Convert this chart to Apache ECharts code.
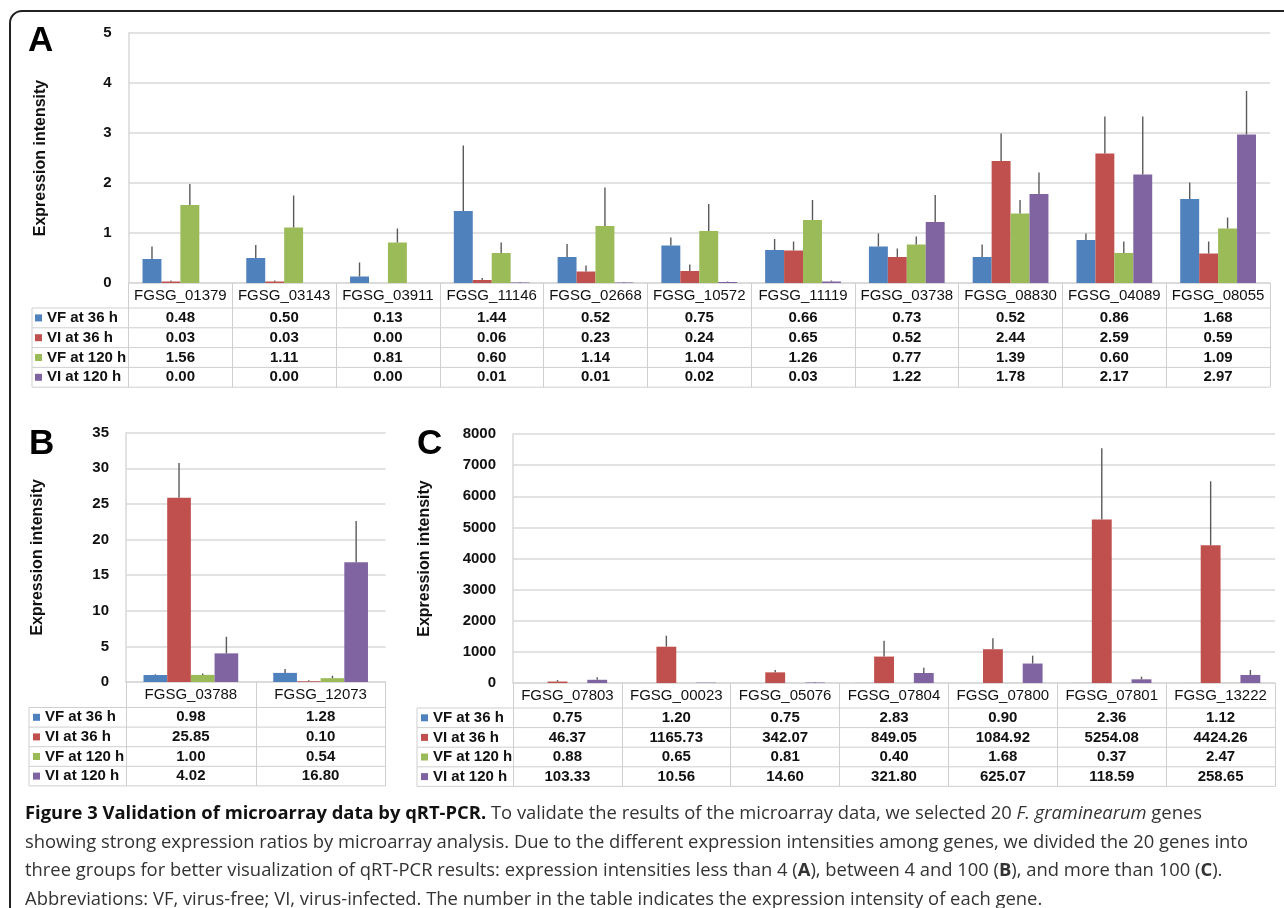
<!DOCTYPE html>
<html><head><meta charset="utf-8">
<script src="https://cdn.jsdelivr.net/npm/echarts@6/dist/echarts.min.js"></script>
<style>html,body{margin:0;padding:0;background:#fff}#c{width:1284px;height:908px}</style>
</head><body><div id="c"></div>
<script>
// ---------- data ----------
const seriesNames = ['VF at 36 h', 'VI at 36 h', 'VF at 120 h', 'VI at 120 h'];

const genesA = ['FGSG_01379','FGSG_03143','FGSG_03911','FGSG_11146','FGSG_02668','FGSG_10572','FGSG_11119','FGSG_03738','FGSG_08830','FGSG_04089','FGSG_08055'];
const vf36A  = [0.48,0.50,0.13,1.44,0.52,0.75,0.66,0.73,0.52,0.86,1.68];
const vi36A  = [0.03,0.03,0.00,0.06,0.23,0.24,0.65,0.52,2.44,2.59,0.59];
const vf120A = [1.56,1.11,0.81,0.60,1.14,1.04,1.26,0.77,1.39,0.60,1.09];
const vi120A = [0.00,0.00,0.00,0.01,0.01,0.02,0.03,1.22,1.78,2.17,2.97];
const vf36ErrA  = [0.25,0.26,0.28,1.31,0.26,0.16,0.22,0.26,0.25,0.13,0.33];
const vi36ErrA  = [0.02,0.02,0.00,0.04,0.12,0.13,0.18,0.17,0.55,0.74,0.24];
const vf120ErrA = [0.42,0.64,0.28,0.21,0.77,0.54,0.40,0.16,0.27,0.23,0.22];
const vi120ErrA = [0.00,0.00,0.00,0.01,0.01,0.01,0.02,0.54,0.43,1.16,0.87];

const genesB = ['FGSG_03788','FGSG_12073'];
const vf36B  = [0.98,1.28];
const vi36B  = [25.85,0.10];
const vf120B = [1.00,0.54];
const vi120B = [4.02,16.80];
const vf36ErrB  = [0.10,0.54];
const vi36ErrB  = [4.90,0.15];
const vf120ErrB = [0.20,0.34];
const vi120ErrB = [2.33,5.80];

const genesC = ['FGSG_07803','FGSG_00023','FGSG_05076','FGSG_07804','FGSG_07800','FGSG_07801','FGSG_13222'];
const vf36C  = [0.75,1.20,0.75,2.83,0.90,2.36,1.12];
const vi36C  = [46.37,1165.73,342.07,849.05,1084.92,5254.08,4424.26];
const vf120C = [0.88,0.65,0.81,0.40,1.68,0.37,2.47];
const vi120C = [103.33,10.56,14.60,321.80,625.07,118.59,258.65];
const vf36ErrC  = [0,0,0,0,0,0,0];
const vi36ErrC  = [50,354,76,510,351,2286,2056];
const vf120ErrC = [0,0,0,0,0,0,0];
const vi120ErrC = [80,0,15,170,253,84,159];

const yTicksA = [0,1,2,3,4,5];
const yTicksB = [0,5,10,15,20,25,30,35];
const yTicksC = [0,1000,2000,3000,4000,5000,6000,7000,8000];

// ---------- style / layout ----------
const COLORS = ['#4F81BD','#C0504D','#9BBB59','#8064A2'];
const FONT = 'Liberation Sans';
const CAP_FONT = 'Open Sans';
const CAP_SIZE = 18.4;
const GAP = 0.27;
const GRID_LINE = '#d9d9d9';
const TABLE_LINE = '#cfcfcf';
const TXT = '#111';

const panels = [
  { letter:'A', genes:genesA, vals:[vf36A,vi36A,vf120A,vi120A], errs:[vf36ErrA,vi36ErrA,vf120ErrA,vi120ErrA], ticks:yTicksA,
    grid:{left:128.5, top:33, width:1141.5, height:250}, tableLeft:32, headH:25, rowH:19.8, letterX:28, letterY:41, legendLeft:35 },
  { letter:'B', genes:genesB, vals:[vf36B,vi36B,vf120B,vi120B], errs:[vf36ErrB,vi36ErrB,vf120ErrB,vi120ErrB], ticks:yTicksB,
    grid:{left:126, top:432.7, width:259.5, height:249.3}, tableLeft:29, headH:25.5, rowH:19.6, letterX:29, letterY:444, legendLeft:33 },
  { letter:'C', genes:genesC, vals:[vf36C,vi36C,vf120C,vi120C], errs:[vf36ErrC,vi36ErrC,vf120ErrC,vi120ErrC], ticks:yTicksC,
    grid:{left:513, top:434, width:762, height:249}, tableLeft:417, headH:25, rowH:19.6, letterX:417, letterY:444.5, legendLeft:421 }
];

const grids = [], xAxes = [], yAxes = [], series = [], legends = [], graphics = [];

panels.forEach((p, pi) => {
  const g = p.grid;
  const bottom = g.top + g.height;
  const tableH = p.headH + p.rowH * 4;
  grids.push(Object.assign({}, g));

  xAxes.push({
    type:'category', gridIndex:pi, data:p.genes,
    axisLine:{show:true, lineStyle:{color:GRID_LINE, width:1.5}},
    axisTick:{show:true, length:tableH, lineStyle:{color:TABLE_LINE, width:1}},
    axisLabel:{interval:0, fontFamily:FONT, fontSize:15, color:TXT, margin:p.headH/2, verticalAlign:'middle'},
    splitLine:{show:false}
  });
  p.vals.forEach((arr, k) => {
    xAxes.push({
      type:'category', gridIndex:pi, data:p.genes, position:'bottom',
      offset: p.headH + p.rowH * (k + 0.5),
      axisLine:{show:false}, axisTick:{show:false}, splitLine:{show:false},
      axisLabel:{interval:0, fontFamily:FONT, fontSize:15, fontWeight:'bold', color:TXT, margin:0, verticalAlign:'middle',
        formatter:(v, idx) => arr[idx].toFixed(2)}
    });
  });

  yAxes.push({
    type:'value', gridIndex:pi, min:p.ticks[0], max:p.ticks[p.ticks.length-1], interval:p.ticks[1]-p.ticks[0],
    axisLine:{show:true, lineStyle:{color:GRID_LINE, width:1.5}}, axisTick:{show:false},
    splitLine:{show:true, lineStyle:{color:GRID_LINE, width:1.5}},
    axisLabel:{fontFamily:FONT, fontSize:15, fontWeight:'bold', color:TXT, margin:17, formatter:v => String(v)},
    name:'Expression intensity', nameLocation:'middle', nameGap:80,
    nameTextStyle:{fontFamily:FONT, fontSize:16, fontWeight:'bold', color:TXT}
  });

  p.vals.forEach((arr, k) => {
    series.push({
      type:'bar', name:seriesNames[k], xAxisIndex:pi*5, yAxisIndex:pi, data:arr,
      barGap:'0%', barCategoryGap:(GAP*100)+'%', itemStyle:{color:COLORS[k]}, silent:true
    });
  });

  const errData = [];
  p.errs.forEach((arr, k) => arr.forEach((e, j) => errData.push([j, k, p.vals[k][j], e])));
  series.push({
    type:'custom', xAxisIndex:pi*5, yAxisIndex:pi, z:5, silent:true, data:errData,
    encode:{x:0, y:2},
    renderItem(params, api) {
      const j = api.value(0), k = api.value(1), v = api.value(2), e = api.value(3);
      if (!(e > 0)) return null;
      const band = api.size([1, 0])[0];
      const total = band * (1 - GAP);
      const bw = total / 4;
      const base = api.coord([j, v]);
      const top = api.coord([j, v + e]);
      const x = base[0] - total / 2 + bw * (k + 0.5);
      return {type:'line', shape:{x1:x, y1:base[1], x2:x, y2:top[1]}, style:{stroke:'#5a5a5a', lineWidth:1.4}};
    }
  });

  legends.push({
    data:seriesNames, orient:'vertical', left:p.legendLeft, top:bottom + p.headH + p.rowH/2 - 7.5,
    itemWidth:7, itemHeight:7, itemGap:p.rowH - 15, padding:0, icon:'rect', selectedMode:false,
    textStyle:{fontFamily:FONT, fontSize:15, fontWeight:'bold', color:TXT, lineHeight:15}
  });

  const right = g.left + g.width;
  for (let r = 0; r <= 4; r++) {
    const y = bottom + p.headH + p.rowH * r;
    graphics.push({type:'line', shape:{x1:p.tableLeft, y1:y, x2:right, y2:y}, style:{stroke:TABLE_LINE, lineWidth:1}, silent:true});
  }
  graphics.push({type:'line', shape:{x1:p.tableLeft, y1:bottom + p.headH, x2:p.tableLeft, y2:bottom + tableH}, style:{stroke:TABLE_LINE, lineWidth:1}, silent:true});

  graphics.push({type:'text', x:p.letterX, y:p.letterY, silent:true,
    style:{text:p.letter, fontFamily:FONT, fontSize:35, fontWeight:'bold', fill:'#000', textAlign:'left', textVerticalAlign:'middle'}});
});

// outer frame
graphics.push({type:'rect', shape:{x:10, y:11, width:1300, height:950, r:12}, style:{fill:'none', stroke:'#222', lineWidth:2}, silent:true});

// caption
const capRich = {
  b:{fontFamily:CAP_FONT, fontSize:CAP_SIZE, fontWeight:'bold', fill:'#111'},
  n:{fontFamily:CAP_FONT, fontSize:CAP_SIZE, fill:'#333'},
  i:{fontFamily:CAP_FONT, fontSize:CAP_SIZE, fontStyle:'italic', fill:'#333'},
  nb:{fontFamily:CAP_FONT, fontSize:CAP_SIZE, fontWeight:'bold', fill:'#333'}
};
const capLines = [
  '{b|Figure 3 Validation of microarray data by qRT-PCR.}{n| To validate the results of the microarray data, we selected 20 }{i|F. graminearum}{n| genes}',
  '{n|showing strong expression ratios by microarray analysis. Due to the different expression intensities among genes, we divided the 20 genes into}',
  '{n|three groups for better visualization of qRT-PCR results: expression intensities less than 4 (}{nb|A}{n|), between 4 and 100 (}{nb|B}{n|), and more than 100 (}{nb|C}{n|).}',
  '{n|Abbreviations: VF, virus-free; VI, virus-infected. The number in the table indicates the expression intensity of each gene.}'
];
const capY = [814, 842.5, 871, 899.5];
capLines.forEach((t, i) => graphics.push({type:'text', x:25, y:capY[i], silent:true,
  style:{text:t, rich:capRich, textAlign:'left', textVerticalAlign:'middle', fontFamily:CAP_FONT, fontSize:CAP_SIZE}}));

const chart = echarts.init(document.getElementById('c'), null, {renderer:'canvas'});
chart.setOption({
  backgroundColor:'#fff',
  animation:false,
  textStyle:{fontFamily:FONT},
  grid:grids, xAxis:xAxes, yAxis:yAxes, series:series, legend:legends,
  graphic:{elements:graphics}
});
</script></body></html>
